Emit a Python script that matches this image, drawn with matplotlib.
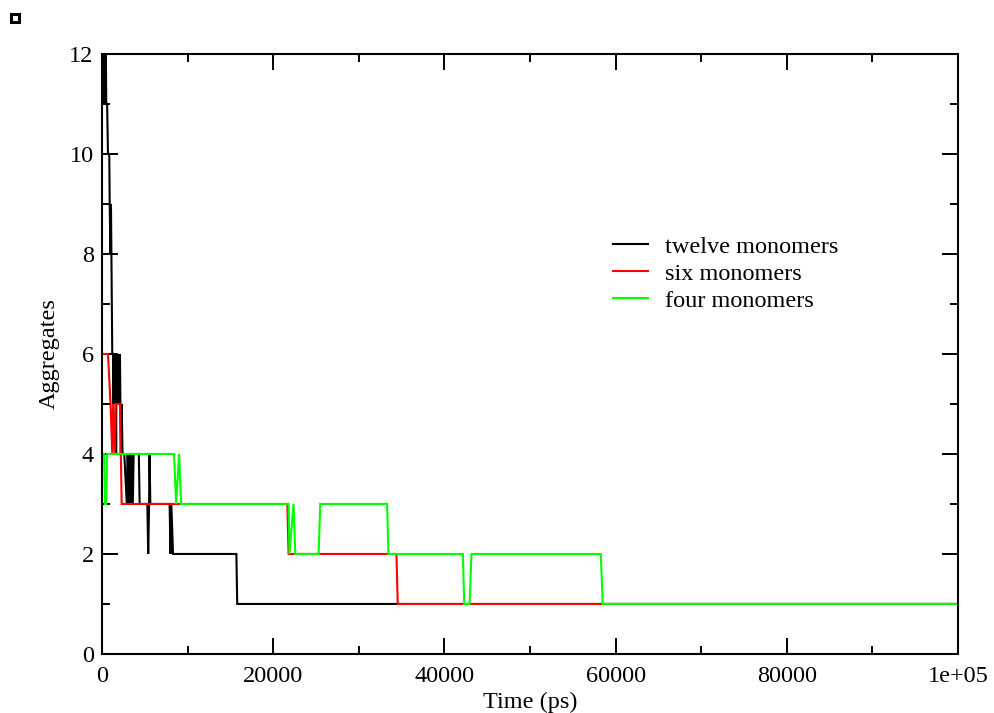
import matplotlib
matplotlib.use("Agg")
import matplotlib.pyplot as plt
from matplotlib.ticker import MultipleLocator, FixedLocator
from matplotlib.patches import Rectangle

plt.rcParams['font.family'] = ['Liberation Serif', 'DejaVu Serif']

# Number of aggregates over simulation time (ps) for three systems
twelve_t = [0, 250, 300, 350, 400, 450, 500, 600, 700, 850, 900, 1000, 1050, 1100,
            1150, 1200, 1300, 1350, 1400, 1500, 1600, 1650, 1700, 1800, 1900, 2000,
            2100, 2200, 2300, 2400, 2600, 2900, 3000, 3100, 3200, 3350, 3450, 3600,
            3700, 4300, 4400, 5300, 5400, 5500, 5550, 5650, 7900, 8000, 8100, 8300,
            15700, 15800, 100000]
twelve_n = [12, 12, 11, 12, 11, 12, 11, 11, 10, 10, 9, 8, 9, 8,
            7, 6, 6, 5, 6, 5, 6, 4, 6, 5, 6, 5,
            6, 4, 5, 4, 4, 3, 4, 3, 4, 3, 4, 3,
            4, 4, 3, 3, 2, 3, 4, 3, 3, 2, 3, 2,
            2, 1, 1]

six_t = [0, 700, 1000, 1200, 1300, 1500, 1600, 1800, 2100, 2300, 21650, 21800,
         34400, 34550, 100000]
six_n = [6, 6, 5, 4, 5, 4, 5, 5, 5, 3, 3, 2,
         2, 1, 1]

four_t = [0, 250, 350, 500, 600, 8420, 8660, 9010, 9240, 21800, 21900, 22380,
          22580, 25310, 25500, 33310, 33460, 42160, 42320, 42940, 43170, 58270,
          58500, 100000]
four_n = [4, 4, 3, 3, 4, 4, 3, 4, 3, 3, 2, 3,
          2, 2, 3, 3, 2, 2, 1, 1, 2, 2,
          1, 1]

series_labels = ["twelve monomers", "six monomers", "four monomers"]
series_colors = ["#000000", "#ff0000", "#00ff00"]

x_ticks = [0, 20000, 40000, 60000, 80000, 100000]
x_tick_labels = ["0", "20000", "40000", "60000", "80000", "1e+05"]
y_ticks = [0, 2, 4, 6, 8, 10, 12]

fs = 17.5

fig = plt.figure(figsize=(9.95, 7.13), dpi=100)
ax = fig.add_axes([0.1025, 0.0828, 0.8603, 0.8415])

lw = 1.5
for t, n, lab, col in zip([twelve_t, six_t, four_t], [twelve_n, six_n, four_n],
                          series_labels, series_colors):
    ax.plot(t, n, color=col, lw=lw, label=lab, solid_joinstyle='miter')

ax.set_xlim(0, 100000)
ax.set_ylim(0, 12)
ax.xaxis.set_major_locator(FixedLocator(x_ticks))
ax.set_xticklabels(x_tick_labels)
ax.xaxis.set_minor_locator(MultipleLocator(10000))
ax.yaxis.set_major_locator(FixedLocator(y_ticks))
ax.yaxis.set_minor_locator(MultipleLocator(1))

ax.tick_params(which='both', direction='in', top=True, right=True,
               width=1.4, labelsize=fs, colors='black')
ax.tick_params(axis='x', which='both', pad=9)
ax.tick_params(axis='y', which='both', pad=6)
ax.tick_params(which='major', length=11.5)
ax.tick_params(which='minor', length=5.8)
for s in ax.spines.values():
    s.set_linewidth(1.5)

ax.set_xlabel("Time (ps)", fontsize=fs, labelpad=3)
ax.set_ylabel("Aggregates", fontsize=fs, labelpad=7)

ax.legend(loc='upper left', bbox_to_anchor=(0.597, 0.697), frameon=False,
          fontsize=fs, handlelength=1.45, handletextpad=0.7, labelspacing=0.2,
          borderpad=0, borderaxespad=0)

# small marker box in the top-left corner
fig.add_artist(Rectangle((11 / 995, 1 - 22 / 713), 8 / 995, 8 / 713,
                         transform=fig.transFigure, facecolor='white',
                         edgecolor='black', linewidth=2.2))

fig.savefig("out.png", dpi=100)
